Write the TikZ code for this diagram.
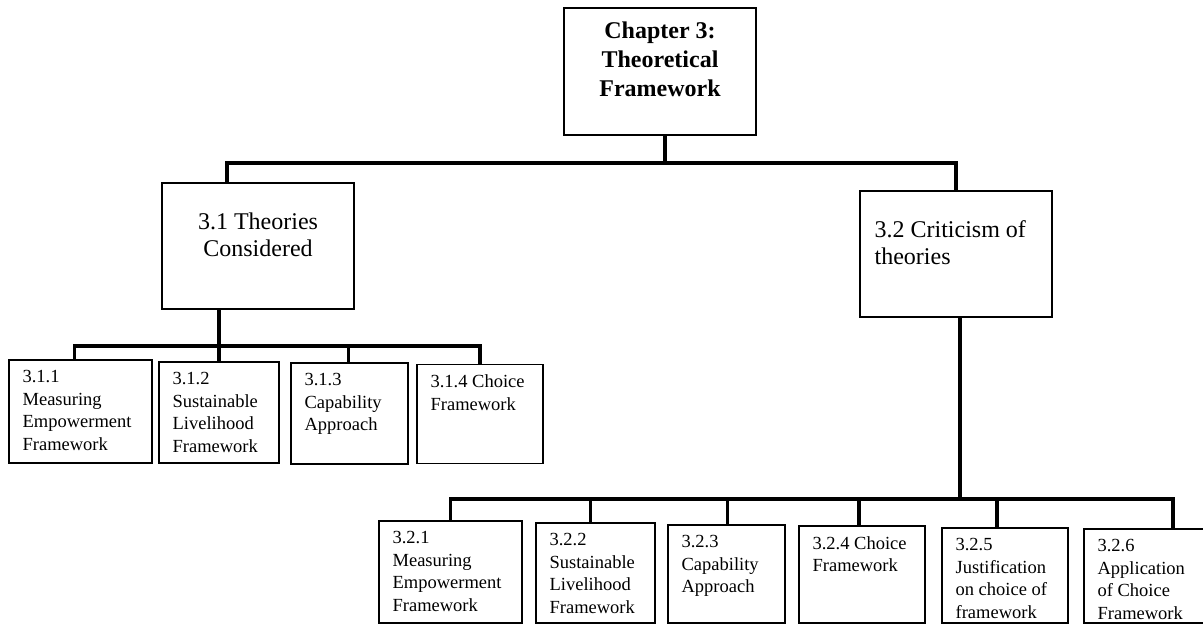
\documentclass[tikz,border=0pt]{standalone}
\usepackage{fontspec}
\setmainfont{Liberation Serif}

\begin{document}
\begin{tikzpicture}[x=1pt, y=-1pt,
    box/.style={draw=black, line width=1.2pt, inner sep=0pt, fill=white},
    conn/.style={black, line width=3.8pt},
    headtxt/.style={font=\fontsize{24}{29}\selectfont\bfseries, align=center, inner sep=0pt, anchor=north},
    midtxt/.style={font=\fontsize{24}{27}\selectfont, inner sep=0pt},
    smalltxt/.style={font=\fontsize{18.5}{22.5}\selectfont, align=left, inner sep=0pt, anchor=north west}]
    \useasboundingbox (0,0) rectangle (1203,625);

    \node[box, minimum width=192pt, minimum height=127pt] (top) at (660,71.5){};
    \node[headtxt] (topt) at ([yshift=-14pt]top.north){Chapter 3:\\Theoretical\\Framework};

    \node[box, minimum width=192pt, minimum height=126pt] (a31) at (258,246){};
    \node[midtxt, align=center, anchor=north] (a31t) at ([yshift=-30pt]a31.north){3.1 Theories\\Considered};
    \node[box, minimum width=192pt, minimum height=126pt] (a32) at (956,254){};
    \node[midtxt, align=left, anchor=north west] (a32t) at ([xshift=15pt,yshift=-30pt]a32.north west){3.2 Criticism of\\theories};

    \node[box, minimum width=143pt, minimum height=103pt] (a311) at (80.5,411.5){};
    \node[box, minimum width=120pt, minimum height=101pt] (a312) at (219,412.5){};
    \node[box, minimum width=117pt, minimum height=101pt] (a313) at (349.5,413.5){};
    \node[box, minimum width=126pt, minimum height=99pt] (a314) at (480,414){};
    \node[smalltxt] (a311t) at ([xshift=14pt,yshift=-11pt]a311.north west){3.1.1\\Measuring\\Empowerment\\Framework};
    \node[smalltxt] (a312t) at ([xshift=14pt,yshift=-11pt]a312.north west){3.1.2\\Sustainable\\Livelihood\\Framework};
    \node[smalltxt] (a313t) at ([xshift=14pt,yshift=-11pt]a313.north west){3.1.3\\Capability\\Approach};
    \node[smalltxt] (a314t) at ([xshift=14pt,yshift=-11pt]a314.north west){3.1.4 Choice\\Framework};

    \node[box, minimum width=143pt, minimum height=102pt] (a321) at (450.5,572){};
    \node[box, minimum width=119pt, minimum height=100pt] (a322) at (595.5,573){};
    \node[box, minimum width=117pt, minimum height=98pt] (a323) at (726.5,574){};
    \node[box, minimum width=126pt, minimum height=97pt] (a324) at (862,574.5){};
    \node[box, minimum width=126pt, minimum height=95pt] (a325) at (1005,575.5){};
    \node[box, minimum width=126pt, minimum height=94pt] (a326) at (1147,576){};
    \node[smalltxt] (a321t) at ([xshift=14pt,yshift=-11pt]a321.north west){3.2.1\\Measuring\\Empowerment\\Framework};
    \node[smalltxt] (a322t) at ([xshift=14pt,yshift=-11pt]a322.north west){3.2.2\\Sustainable\\Livelihood\\Framework};
    \node[smalltxt] (a323t) at ([xshift=14pt,yshift=-11pt]a323.north west){3.2.3\\Capability\\Approach};
    \node[smalltxt] (a324t) at ([xshift=14pt,yshift=-11pt]a324.north west){3.2.4 Choice\\Framework};
    \node[smalltxt] (a325t) at ([xshift=14pt,yshift=-11pt]a325.north west){3.2.5\\Justification\\on choice of\\framework};
    \node[smalltxt] (a326t) at ([xshift=14pt,yshift=-11pt]a326.north west){3.2.6\\Application\\of Choice\\Framework};

    \draw[conn] ([xshift=5pt]top.south) -- ++(0,27) coordinate (j0);
    \draw[conn] ([xshift=-31pt]a31.north) |- (j0);
    \draw[conn] (a32.north) |- (j0);

    \draw[conn] ([xshift=-39pt]a31.south) -- ++(0,36) coordinate (j1);
    \draw[conn] ([xshift=-6pt]a311.north) |- (j1);
    \draw[conn] (a312.north) |- (j1);
    \draw[conn] ([xshift=-1pt]a313.north) |- (j1);
    \draw[conn] (a314.north) |- (j1);

    \draw[conn] ([xshift=4pt]a32.south) -- ++(0,181) coordinate (j2);
    \draw[conn] (a321.north) |- (j2);
    \draw[conn] ([xshift=-5pt]a322.north) |- (j2);
    \draw[conn] ([xshift=1pt]a323.north) |- (j2);
    \draw[conn] ([xshift=-3pt]a324.north) |- (j2);
    \draw[conn] ([xshift=-8pt]a325.north) |- (j2);
    \draw[conn] ([xshift=26pt]a326.north) |- (j2);
\end{tikzpicture}
\end{document}
